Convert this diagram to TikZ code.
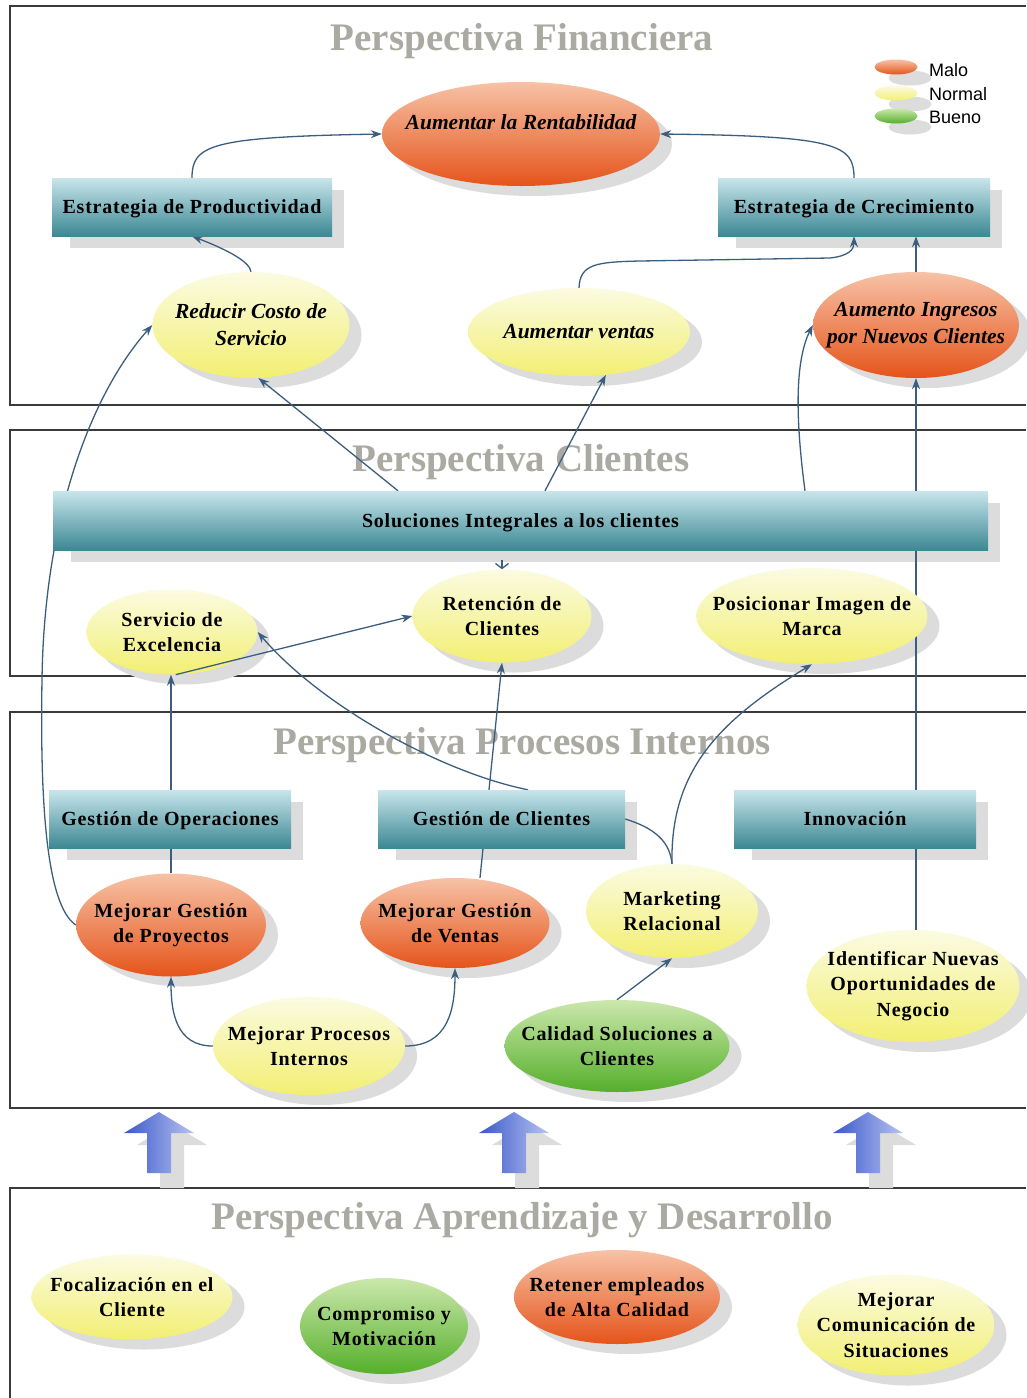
\documentclass[tikz,border=0pt]{standalone}
\usepackage{fontspec}
\setmainfont{Liberation Serif}
\newfontfamily\legendfont{Liberation Sans}
\usetikzlibrary{shapes.geometric,shadows,arrows.meta}
\pgfdeclarelayer{frames}
\pgfdeclarelayer{shades}
\pgfdeclarelayer{links}
\pgfsetlayers{frames,shades,links,main}

\definecolor{framec}{HTML}{3A3A3A}
\definecolor{titlec}{HTML}{ABAAA2}
\definecolor{linkc}{HTML}{3C5E7E}
\definecolor{shadowc}{HTML}{DCDCDC}
\definecolor{tealT}{HTML}{C8E5EB}
\definecolor{tealB}{HTML}{3C8893}
\definecolor{orT}{HTML}{F7C2A6}
\definecolor{orB}{HTML}{E5541A}
\definecolor{yeT}{HTML}{FBFBE2}
\definecolor{yeB}{HTML}{F2EF72}
\definecolor{grT}{HTML}{CBE8AC}
\definecolor{grB}{HTML}{55AF2A}
\definecolor{arrL}{HTML}{3A58CC}
\definecolor{arrR}{HTML}{B8C3EF}

% objective ellipse: #1 colour style, #2 name, #3 x, #4 y, #5 width, #6 height,
% #7 text style, #8 text; its shadow goes on the shades layer
\newcommand\ovalgoal[8]{%
  \begin{pgfonlayer}{shades}
    \node[ellipse, inner sep=0pt, fill=shadowc, minimum width=#5pt, minimum height=#6pt]
      (#2-s) at (#3+12,#4+10) {};
  \end{pgfonlayer}
  \node[#1, minimum width=#5pt, minimum height=#6pt] (#2) at (#3,#4) {};
  \node[#7] (#2-l) at (#2) {#8};}

% strategy bar: #1 name, #2 x, #3 y, #4 width, #5 height, #6 text
\newcommand\barbox[6]{%
  \begin{pgfonlayer}{shades}
    \fill[shadowc] (#2-#4/2+18,#3-#5/2+12) rectangle (#2+#4/2+12,#3+#5/2+12);
  \end{pgfonlayer}
  \node[bar, minimum width=#4pt, minimum height=#5pt] (#1) at (#2,#3) {#6};}

\begin{document}
\begin{tikzpicture}[x=1pt,y=-1pt,
  frame/.style={draw=framec, line width=1.4pt},
  ptitle/.style={text=titlec, anchor=base, inner sep=0pt,
    font=\fontsize{39}{44}\selectfont\bfseries},
  bar/.style={rectangle, inner sep=0pt, text depth=0pt,
    top color=tealT, bottom color=tealB,
    font=\fontsize{20}{25}\selectfont\bfseries\addfontfeature{LetterSpace=4}},
  oval/.style={ellipse, inner sep=0pt},
  malo/.style={oval, top color=orT, bottom color=orB},
  normal/.style={oval, top color=yeT, bottom color=yeB},
  bueno/.style={oval, top color=grT, bottom color=grB},
  legshadow/.style={drop shadow={shadow xshift=14pt, shadow yshift=-11pt, fill=shadowc, opacity=1}},
  etxt/.style={align=center, inner sep=0pt,
    font=\fontsize{20}{25.5}\selectfont\bfseries\addfontfeature{LetterSpace=4}},
  itxt/.style={align=center, inner sep=0pt,
    font=\fontsize{21.5}{27}\selectfont\bfseries\itshape},
  legtxt/.style={anchor=west, inner sep=0pt, font=\legendfont\fontsize{18}{20}\selectfont},
  conn/.style={draw=linkc, line width=1.3pt},
  arr/.style={conn, -{Stealth[length=11pt,width=8pt]}},
  uparr/.pic={
    \fill[shadowc] (13,12) -- (48,33) -- (25,33) -- (25,76) -- (1,76) -- (1,33) -- (-22,33) -- cycle;
    \shade[left color=arrL, right color=arrR]
      (0,0) -- (35,21) -- (12,21) -- (12,61) -- (-12,61) -- (-12,21) -- (-35,21) -- cycle;
  }
]
\useasboundingbox (0,0) rectangle (1026,1398);

% ---------- page, perspective frames and titles ----------
\begin{pgfonlayer}{frames}
  \fill[white] (0,0) rectangle (1026,1398);
  \draw[frame] (1026,6) -- (10,6) -- (10,405) -- (1026,405);
  \draw[frame] (1026,430) -- (10,430) -- (10,676) -- (1026,676);
  \draw[frame] (1026,712) -- (10,712) -- (10,1108) -- (1026,1108);
  \draw[frame] (1026,1188) -- (10,1188) -- (10,1398);
  \node[ptitle] (t-fin) at (522,50) {Perspectiva Financiera};
  \node[ptitle] (t-cli) at (521,471) {Perspectiva Clientes};
  \node[ptitle] (t-pro) at (522,754) {Perspectiva Procesos Internos};
  \node[ptitle] (t-apr) at (522,1229) {Perspectiva Aprendizaje y Desarrollo};
\end{pgfonlayer}

% ---------- legend ----------
\node[malo, legshadow, minimum width=43pt, minimum height=15pt] (lg-m) at (896,67) {};
\node[normal, legshadow, minimum width=43pt, minimum height=15pt] (lg-n) at (896,93) {};
\node[bueno, legshadow, minimum width=43pt, minimum height=15pt] (lg-b) at (896,116) {};
\node[legtxt] (lg-mt) at (929,70) {Malo};
\node[legtxt] (lg-nt) at (929,94) {Normal};
\node[legtxt] (lg-bt) at (929,117) {Bueno};

% ---------- financial perspective ----------
\ovalgoal{malo}{rent}{521}{134}{278}{104}{itxt,yshift=12pt}{Aumentar la Rentabilidad}
\barbox{eprod}{192}{207}{280}{58}{Estrategia de Productividad}
\barbox{ecrec}{854}{207}{272}{58}{Estrategia de Crecimiento}
\ovalgoal{normal}{reduc}{251}{325}{197}{106}{itxt}{Reducir Costo de\\Servicio}
\ovalgoal{normal}{avent}{579}{332}{222}{88}{itxt}{Aumentar ventas}
\ovalgoal{malo}{aingr}{916}{325}{206}{106}{itxt}{Aumento Ingresos\\por Nuevos Clientes}

% ---------- customer perspective ----------
\barbox{soluc}{520.5}{520.5}{935}{59}{Soluciones Integrales a los clientes}
\ovalgoal{normal}{servx}{172}{632}{171}{85}{etxt}{Servicio de\\Excelencia}
\ovalgoal{normal}{reten}{502}{616}{179}{93}{etxt}{Retención de\\Clientes}
\ovalgoal{normal}{posic}{812}{616}{231}{96}{etxt}{Posicionar Imagen de\\Marca}

% ---------- internal processes ----------
\barbox{gop}{170}{819}{242}{58}{Gestión de Operaciones}
\barbox{gcli}{501.5}{819}{247}{58}{Gestión de Clientes}
\barbox{innov}{855}{819}{242}{58}{Innovación}
\ovalgoal{malo}{mgp}{171}{925}{190}{103}{etxt}{Mejorar Gestión\\de Proyectos}
\ovalgoal{malo}{mgv}{455}{923}{189}{90}{etxt}{Mejorar Gestión\\de Ventas}
\ovalgoal{normal}{mkt}{672}{911}{172}{94}{etxt}{Marketing\\Relacional}
\ovalgoal{normal}{ident}{913}{986}{213}{112}{etxt}{Identificar Nuevas\\Oportunidades de\\Negocio}
\ovalgoal{normal}{mproc}{309}{1046}{192}{98}{etxt}{Mejorar Procesos\\Internos}
\ovalgoal{bueno}{calid}{617}{1046}{225}{92}{etxt}{Calidad Soluciones a\\Clientes}

% ---------- block arrows between perspectives ----------
\pic (up1) at (159,1112) {uparr};
\pic (up2) at (514,1112) {uparr};
\pic (up3) at (868,1112) {uparr};

% ---------- learning and growth ----------
\ovalgoal{normal}{foc}{132}{1297}{201}{85}{etxt}{Focalización en el\\Cliente}
\ovalgoal{bueno}{comp}{384}{1326}{168}{96}{etxt}{Compromiso y\\Motivación}
\ovalgoal{malo}{retem}{617}{1297}{206}{94}{etxt}{Retener empleados\\de Alta Calidad}
\ovalgoal{normal}{mcom}{896}{1325}{197}{101}{etxt}{Mejorar\\Comunicación de\\Situaciones}

% ---------- cause and effect links ----------
\begin{pgfonlayer}{links}
  \draw[arr] (eprod.north) .. controls (192,145) and (210,137) .. (rent.west);
  \draw[arr] (ecrec.north) .. controls (854,145) and (838,136) .. (rent.east);
  \draw[arr] (reduc.north) .. controls (250,262) and (228,250) .. (eprod.south);
  \draw[arr] (avent.north) .. controls (580,264) and (596,262) .. (640,261)
             -- (830,258) .. controls (848,256) and (854,250) .. (ecrec.south);
  \draw[arr] (aingr.north) -- (aingr.north |- ecrec.south);
  \draw[arr] (398,0 |- soluc.north) -- (reduc.-82);
  \draw[arr] (545,0 |- soluc.north) -- (avent.-58);
  \draw[arr] (805,0 |- soluc.north) .. controls (797,430) and (793,365) .. (aingr.west);
  \draw[arr] (aingr.south |- innov.north) -- (aingr.south);
  \draw[conn] (aingr.south |- ident.north) -- (aingr.south |- innov.south);
  \draw[arr] (mgp.west) .. controls (46,905) and (40,800) .. (42,680)
             .. controls (44,520) and (90,395) .. (reduc.west);
  \draw[arr] (mgp.north) -- (mgp.north |- servx.south);
  \draw[arr] (528,0 |- gcli.north) .. controls (440,772) and (320,705) .. (servx.east);
  \draw[arr] (480,0 |- mgv.north) -- (reten.south);
  \draw[conn, -{Straight Barb[length=5pt,width=13pt]}]
    ([yshift=-10pt]soluc.south -| reten.north) -- (reten.north);
  \draw[arr] (mkt.north) .. controls (670,770) and (720,720) .. (posic.south);
  \draw[conn] (gcli.east) .. controls (655,828) and (670,842) .. (mkt.north);
  \draw[arr] (calid.north) -- (mkt.south);
  \draw[arr] (mproc.west) .. controls (176,1046) and (171,1012) .. (mgp.south);
  \draw[arr] (mproc.east) .. controls (448,1046) and (455,1010) .. (mgv.south);
\end{pgfonlayer}
% this link runs across the lower part of its source ellipse
\draw[arr] (servx.-85) -- (reten.west);
\end{tikzpicture}
\end{document}
